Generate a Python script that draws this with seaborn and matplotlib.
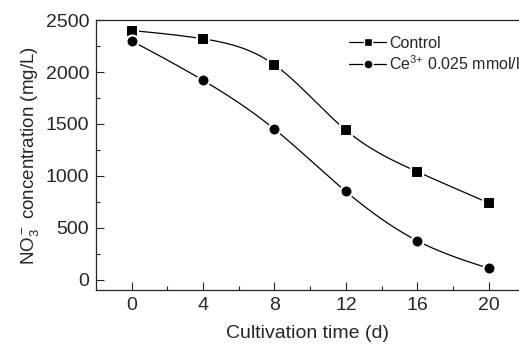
import numpy as np
import pandas as pd
import seaborn as sns
import matplotlib.pyplot as plt
from matplotlib.lines import Line2D

days = [0, 4, 8, 12, 16, 20]
control = [2400, 2320, 2070, 1440, 1040, 740]
cerium = [2300, 1920, 1450, 850, 375, 110]


def smooth(x, y, n=200):
    # natural cubic spline through the measured points
    x = np.asarray(x, float)
    y = np.asarray(y, float)
    h = np.diff(x)
    m = len(x)
    A = np.zeros((m, m))
    b = np.zeros(m)
    A[0, 0] = A[-1, -1] = 1
    for i in range(1, m - 1):
        A[i, i - 1] = h[i - 1]
        A[i, i] = 2 * (h[i - 1] + h[i])
        A[i, i + 1] = h[i]
        b[i] = 6 * ((y[i + 1] - y[i]) / h[i] - (y[i] - y[i - 1]) / h[i - 1])
    M = np.linalg.solve(A, b)
    xs = np.linspace(x[0], x[-1], n)
    k = np.clip(np.searchsorted(x, xs) - 1, 0, m - 2)
    t0 = x[k + 1] - xs
    t1 = xs - x[k]
    hk = h[k]
    ys = (M[k] * t0 ** 3 + M[k + 1] * t1 ** 3) / (6 * hk) \
        + (y[k] / hk - M[k] * hk / 6) * t0 + (y[k + 1] / hk - M[k + 1] * hk / 6) * t1
    return xs, ys


sns.set_style("ticks")
plt.rcParams['font.family'] = ['Liberation Sans', 'DejaVu Sans']
plt.rcParams['mathtext.fontset'] = 'custom'
plt.rcParams['mathtext.rm'] = 'Liberation Sans'
plt.rcParams['mathtext.it'] = 'Liberation Sans'

fig = plt.figure(figsize=(5.19, 3.47), dpi=100)
ax = fig.add_axes([0.185, 0.164, 0.815, 0.778])

for vals, mk in [(control, 's'), (cerium, 'o')]:
    xs, ys = smooth(days, vals)
    sns.lineplot(x=xs, y=ys, ax=ax, color='black', linewidth=0.9, sort=False)
    sns.scatterplot(x=days, y=vals, ax=ax, marker=mk, color='black', s=75,
                    edgecolor='white', linewidth=1.5, zorder=3)

ax.set_xlim(-2, 21.7)
ax.set_ylim(-100, 2500)
ax.set_xticks(days)
ax.set_xticks(range(2, 22, 4), minor=True)
ax.set_yticks(range(0, 2501, 500))
ax.set_yticks(range(250, 2500, 500), minor=True)
ax.tick_params(direction='in', labelsize=14, length=6, width=0.8, pad=5)
ax.tick_params(which='minor', direction='in', length=3, width=0.8)
ax.spines['right'].set_visible(False)
for s in ['left', 'bottom', 'top']:
    ax.spines[s].set_linewidth(0.9)

ax.set_xlabel('Cultivation time (d)', fontsize=14, labelpad=8)
ax.set_ylabel('NO$_3^-$ concentration (mg/L)', fontsize=13.5, labelpad=3)

handles = [
    Line2D([], [], color='black', marker='s', markersize=5.5, linewidth=0.9,
           markeredgecolor='white', markeredgewidth=1.0),
    Line2D([], [], color='black', marker='o', markersize=6.5, linewidth=0.9,
           markeredgecolor='white', markeredgewidth=1.0),
]
ax.legend(handles, ['Control', 'Ce$^{3{+}}$ 0.025 mmol/l'], loc='upper left',
          frameon=False, fontsize=11.5, handlelength=2.3, handletextpad=0.2,
          labelspacing=0.2, borderaxespad=0, bbox_to_anchor=(0.584, 0.965))

fig.savefig('out.png', dpi=100)
